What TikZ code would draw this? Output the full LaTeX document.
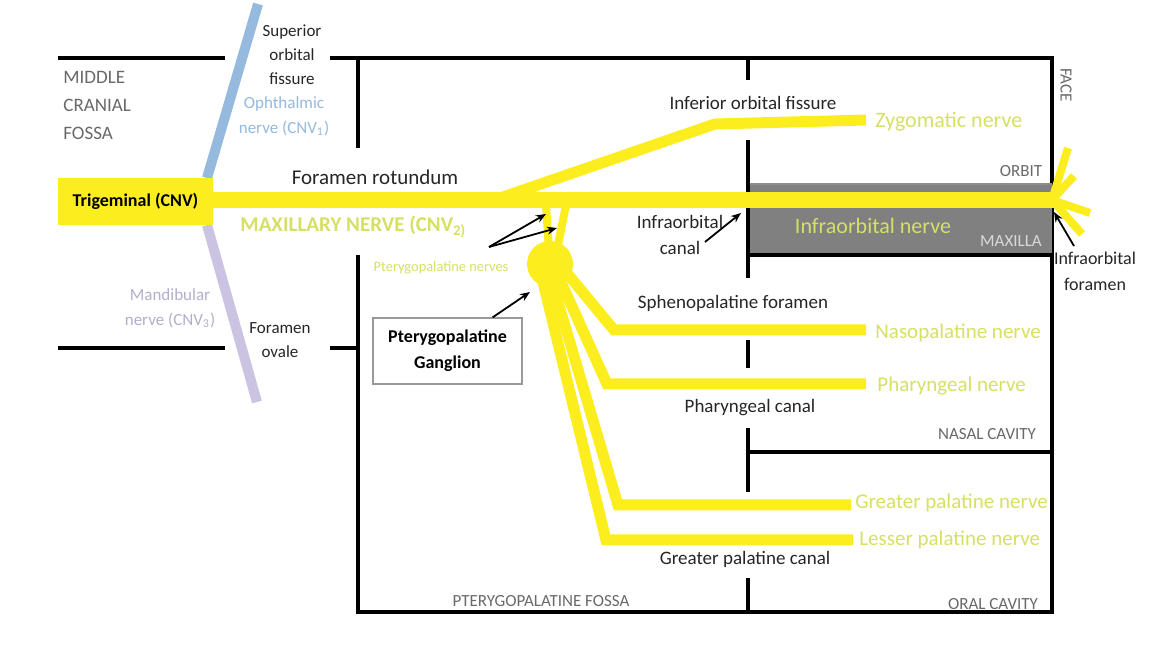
\documentclass[tikz,border=0pt]{standalone}
\usepackage{fontspec}
\setmainfont{Carlito}
\usetikzlibrary{arrows.meta}
\definecolor{nerve}{RGB}{252,238,30}
\definecolor{nlab}{RGB}{214,224,100}
\definecolor{glab}{RGB}{105,105,105}
\definecolor{ophth}{RGB}{150,185,222}
\definecolor{mand}{RGB}{202,196,226}
\definecolor{mandlab}{RGB}{180,174,205}
\definecolor{boxgray}{RGB}{128,128,128}
\tikzset{
  wall/.style={line width=2pt,black},
  nv/.style={line width=5.5pt,nerve,line join=miter},
  mainnv/.style={line width=8pt,nerve},
  lbl/.style={font=\fontsize{10}{12}\selectfont,text=black!85,inner sep=0pt},
  nlbl/.style={font=\fontsize{10.5}{13}\selectfont,text=nlab,inner sep=0pt,anchor=west},
  glbl/.style={font=\fontsize{9.5}{14}\selectfont,text=glab,inner sep=0pt},
  ptr/.style={line width=0.9pt,black,-{Stealth[length=5pt,width=4pt]}}
}
\begin{document}
\begin{tikzpicture}[x=0.5pt,y=-0.5pt]
\useasboundingbox[fill=white] (0,0) rectangle (1157,662);
% walls
\coordinate (tl1) at (58,58); \coordinate (tl2) at (225,58);
\draw[wall] (tl1) -- (tl2);
\coordinate (bl1) at (58,348); \coordinate (bl2) at (225,348);
\draw[wall] (bl1) -- (bl2);
\coordinate (t1) at (330,58); \coordinate (tr) at (1052,58);
\coordinate (br) at (1052,612); \coordinate (b1) at (358,612);
\draw[wall] (t1) -- (tr) -- (br) -- (b1) -- (358,255);
\draw[wall] (358,58) -- (358,148);
\draw[wall] (330,348) -- (358,348);
% gray maxilla box
\fill[boxgray] (748,184) rectangle (1052,255);
\draw[line width=1pt,black!45] (748,184) -- (1052,184);
\draw[wall] (748,255) -- (1052,255);
% middle vertical wall segments
\draw[wall] (748,58) -- (748,80);
\draw[wall] (748,140) -- (748,278);
\draw[wall] (748,340) -- (748,368);
\draw[wall] (748,428) -- (748,492);
\draw[wall] (748,578) -- (748,612);
\draw[wall] (748,452) -- (1052,452);
% CNV1, CNV3
\draw[line width=5pt,ophth] (207,178) -- (258,4);
\draw[line width=5pt,mand] (207,225) -- (257,402);
% main nerve
\node[fill=nerve,minimum width=77.5pt,minimum height=23.5pt,inner sep=0pt,font=\bfseries\fontsize{9}{11}\selectfont] (trig) at (135.5,201.5) {Trigeminal (CNV)};
\coordinate (mstart) at (200,200);
\coordinate (mend) at (1054,200);
\draw[mainnv] (mstart) -- (mend);
% infraorbital fan
\foreach \p in {(1068,148),(1074,176),(1090,213),(1082,234)}
  \draw[line width=4pt,nerve] (1052,200) -- \p;
% zygomatic
\coordinate (zy0) at (500,198);
\coordinate (zy1) at (715,124);
\coordinate (zy2) at (866,120);
\draw[nv] (zy0) -- (zy1) -- (zy2);
% ganglion
\coordinate (pn1a) at (546,205); \coordinate (pn1b) at (549,250);
\coordinate (pn2a) at (566,205); \coordinate (pn2b) at (557,250);
\draw[line width=4pt,nerve] (pn1a) -- (pn1b);
\draw[line width=4pt,nerve] (pn2a) -- (pn2b);
% branches
\coordinate (np0) at (566,272); \coordinate (np1) at (614,330); \coordinate (np2) at (866,330);
\coordinate (ph0) at (560,280); \coordinate (ph1) at (607,384); \coordinate (ph2) at (866,384);
\coordinate (gp0) at (552,282); \coordinate (gp1) at (618,505); \coordinate (gp2) at (851,505);
\coordinate (lp0) at (543,282); \coordinate (lp1) at (606,540); \coordinate (lp2) at (853,540);
\draw[nv] (np0) -- (np1) -- (np2);
\draw[nv] (ph0) -- (ph1) -- (ph2);
\draw[nv] (gp0) -- (gp1) -- (gp2);
\draw[nv] (lp0) -- (lp1) -- (lp2);
\node[circle,fill=nerve,minimum size=23pt,inner sep=0pt] (gang) at (550,264) {};
% labels
\node[glbl,align=left,anchor=north west] (mcf) at (63,71) {MIDDLE\\CRANIAL\\FOSSA};
\node[lbl,font=\fontsize{8.5}{12}\selectfont,align=center] (sof) at (292,55) {Superior\\orbital\\fissure};
\node[lbl,font=\fontsize{8.5}{12.5}\selectfont,text=ophth,align=center] (oph) at (284,116) {Ophthalmic\\nerve (CNV\textsubscript{1})};
\node[lbl,font=\fontsize{8.5}{12.5}\selectfont,text=mandlab,align=center] (manl) at (170,308) {Mandibular\\nerve (CNV\textsubscript{3})};
\node[lbl,font=\fontsize{8.5}{12}\selectfont,align=center] (fov) at (280,340) {Foramen\\ovale};
\node[lbl,font=\fontsize{10.5}{12}\selectfont] (frot) at (375,177) {Foramen rotundum};
\node[nlbl,font=\bfseries\fontsize{10.5}{12}\selectfont] (max) at (240,227) {MAXILLARY NERVE (CNV\textsubscript{2)}};
\node[lbl,font=\fontsize{7.2}{8}\selectfont,text=nlab] (ptn) at (441,268) {Pterygopalatine nerves};
\node[lbl,font=\fontsize{9.5}{12}\selectfont] (iof) at (753,103) {Inferior orbital fissure};
\node[nlbl,font=\fontsize{11}{13}\selectfont] (zyl) at (875,122) {Zygomatic nerve};
\node[lbl,font=\fontsize{9.5}{13}\selectfont,align=center] (ioc) at (680,235) {Infraorbital\\canal};
\node[nlbl,font=\fontsize{11}{13}\selectfont,anchor=center] (iol) at (873,226) {Infraorbital nerve};
\node[glbl,font=\fontsize{8.5}{10}\selectfont] (orb) at (1021,171) {ORBIT};
\node[glbl,font=\fontsize{8.5}{10}\selectfont,text=white!85!black] (maxl) at (1011,241) {MAXILLA};
\node[glbl,font=\fontsize{8.5}{10}\selectfont,rotate=-90] (face) at (1066,85) {FACE};
\node[lbl,font=\fontsize{9}{13}\selectfont,align=center] (iofor) at (1095,271) {Infraorbital\\foramen};
\node[lbl,font=\fontsize{9.5}{12}\selectfont] (sph) at (733,303) {Sphenopalatine foramen};
\node[nlbl] (npl) at (875,333) {Nasopalatine nerve};
\node[nlbl] (phl) at (877,386) {Pharyngeal nerve};
\node[lbl,font=\fontsize{9.5}{12}\selectfont] (phc) at (750,408) {Pharyngeal canal};
\node[glbl,font=\fontsize{8.5}{10}\selectfont] (nas) at (987,434) {NASAL CAVITY};
\node[nlbl] (gpl) at (855,503) {Greater palatine nerve};
\node[nlbl] (lpl) at (859,540) {Lesser palatine nerve};
\node[lbl,font=\fontsize{9.5}{12}\selectfont] (gpc) at (745,559) {Greater palatine canal};
\node[glbl,font=\fontsize{8.5}{10}\selectfont] (ptf) at (541,601) {PTERYGOPALATINE FOSSA};
\node[glbl,font=\fontsize{8.5}{10}\selectfont] (oral) at (993,604) {ORAL CAVITY};
\node[draw=black!40,line width=0.6pt,minimum width=74.5pt,minimum height=33pt,align=center,font=\bfseries\fontsize{9}{13}\selectfont,inner sep=0pt] (gbox) at (447.5,351) {Pterygopalatine\\Ganglion};
% pointers
\coordinate (pa) at (489,247);
\draw[ptr] (pa) -- (pn1a |- 0,214);
\draw[ptr] (pa) -- (557,228);
\draw[ptr] (gbox.north east) ++(-30,0) -- (530,292);
\draw[ptr] (705,242) -- (741,213);
\draw[ptr] (1074,246) -- (1054,212);
\end{tikzpicture}
\end{document}
